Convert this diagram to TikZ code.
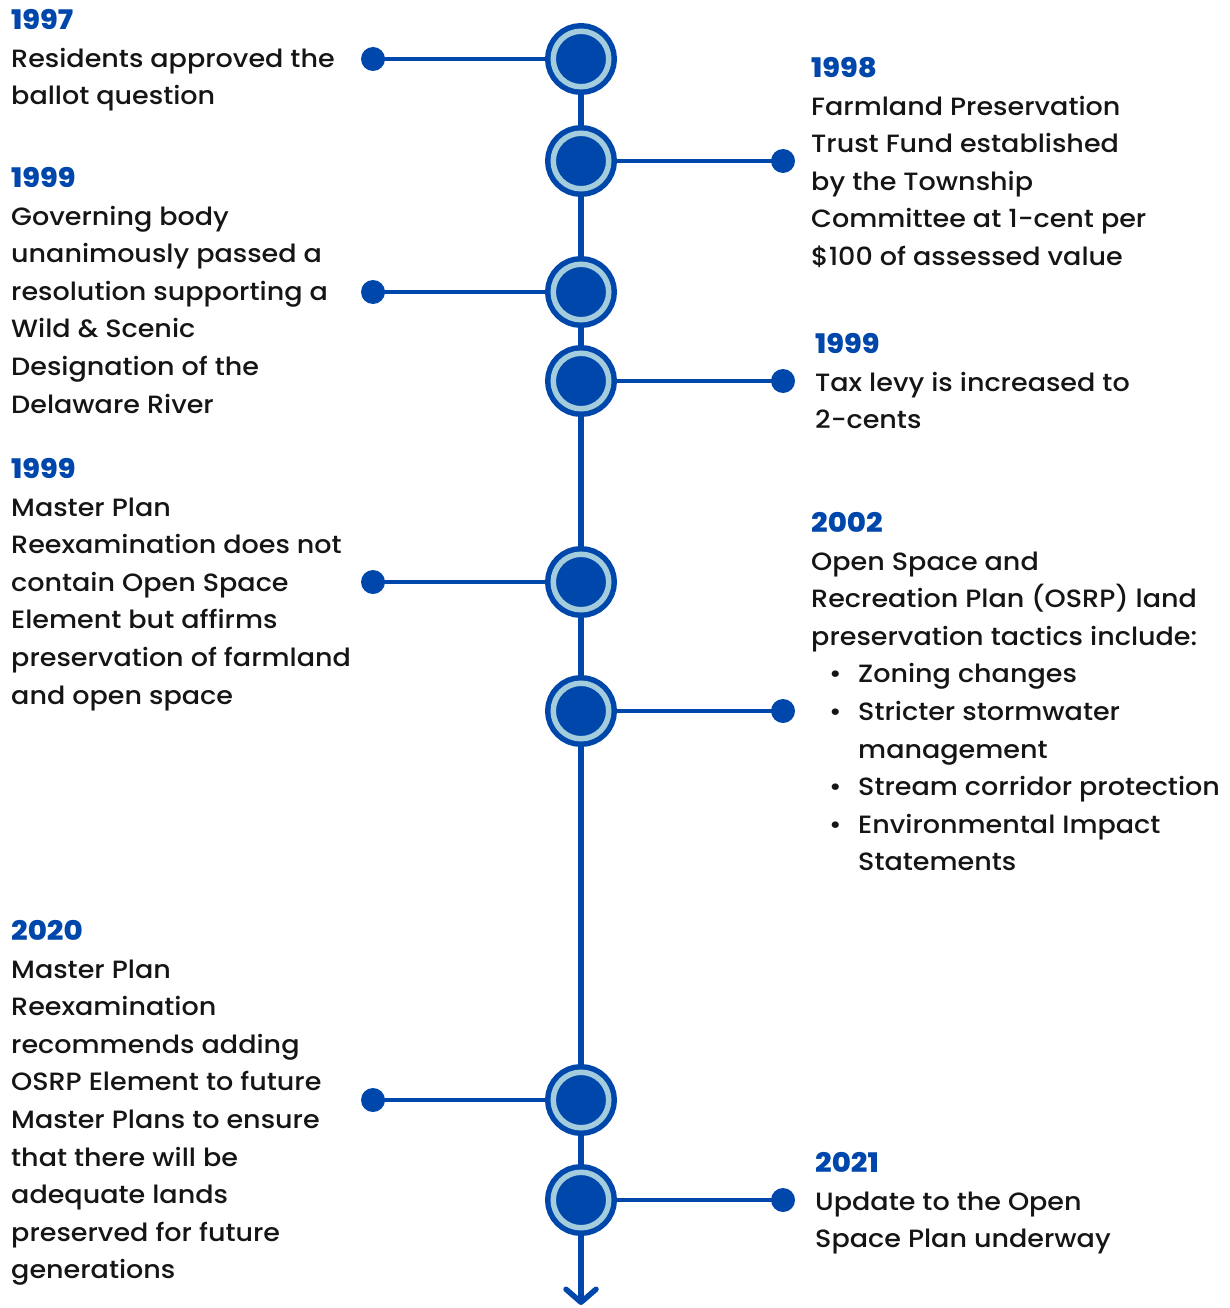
\documentclass[tikz,border=0pt]{standalone}
\usepackage{fontspec}
\setmainfont{Poppins}[UprightFont=* Medium, BoldFont=* ExtraBold, FakeStretch=1.08]
\usetikzlibrary{arrows.meta,backgrounds}
\definecolor{tblue}{HTML}{0047AB}
\definecolor{tlight}{HTML}{A3CCDD}
\definecolor{ttext}{HTML}{151515}
\tikzset{
  evt/.style={circle, inner sep=0, minimum size=55.5pt, fill=tblue, draw=tblue, line width=5.5pt, double=tlight, double distance=5.5pt},
  dotend/.style={circle, inner sep=0, minimum size=24pt, fill=tblue},
  txt/.style={anchor=north west, inner sep=0, align=left, font=\fontsize{25}{37.6}\selectfont, text=ttext},
  spine/.style={draw=tblue, line width=5.5pt},
  branch/.style={draw=tblue, line width=3.5pt},
}
\newcommand{\yr}[1]{\strut\textcolor{tblue}{\fontsize{27}{37.6}\selectfont\bfseries #1}}
\newcommand{\bul}{\makebox[47pt][l]{\hspace{18pt}\textbullet}}
\newcommand{\ind}{\hspace*{47pt}}
\begin{document}
\begin{tikzpicture}[x=1pt,y=-1pt]
\useasboundingbox (0,0) rectangle (1230,1308);
% event circles
\node[evt] (c1) at (581,59) {};
\node[evt] (c2) at (581,161) {};
\node[evt] (c3) at (581,292) {};
\node[evt] (c4) at (581,381) {};
\node[evt] (c5) at (581,582) {};
\node[evt] (c6) at (581,711) {};
\node[evt] (c7) at (581,1100) {};
\node[evt] (c8) at (581,1200) {};
\coordinate (end) at (581,1305);
% end dots
\node[dotend] (d1) at (373,59) {};
\node[dotend] (d2) at (783,161) {};
\node[dotend] (d3) at (373,292) {};
\node[dotend] (d4) at (783,381) {};
\node[dotend] (d5) at (373,582) {};
\node[dotend] (d6) at (783,711) {};
\node[dotend] (d7) at (373,1100) {};
\node[dotend] (d8) at (783,1200) {};
\begin{pgfonlayer}{background}
  \draw[spine] (c1.center) -- (c8.center);
  \draw[spine, -{Straight Barb[length=13pt,width=30pt,round]}] (c8.center) -- (end);
  \foreach \i in {1,...,8} { \draw[branch] (c\i.center) -- (d\i.center); }
\end{pgfonlayer}
% texts
\node[txt] (t1) at (11,3) {\yr{1997}\\Residents approved the\\ballot question};
\node[txt] (t2) at (811,51) {\yr{1998}\\Farmland Preservation\\Trust Fund established\\by the Township\\Committee at 1-cent per\\\$100 of assessed value};
\node[txt] (t3) at (11,161) {\yr{1999}\\Governing body\\unanimously passed a\\resolution supporting a\\Wild \& Scenic\\Designation of the\\Delaware River};
\node[txt] (t4) at (815,327) {\yr{1999}\\Tax levy is increased to\\2-cents};
\node[txt] (t5) at (11,452) {\yr{1999}\\Master Plan\\Reexamination does not\\contain Open Space\\Element but affirms\\preservation of farmland\\and open space};
\node[txt] (t6) at (811,506) {\yr{2002}\\Open Space and\\Recreation Plan (OSRP) land\\preservation tactics include:\\\bul Zoning changes\\\bul Stricter stormwater\\\ind management\\\bul Stream corridor protection\\\bul Environmental Impact\\\ind Statements};
\node[txt] (t7) at (11,914) {\yr{2020}\\Master Plan\\Reexamination\\recommends adding\\OSRP Element to future\\Master Plans to ensure\\that there will be\\adequate lands\\preserved for future\\generations};
\node[txt] (t8) at (815,1146) {\yr{2021}\\Update to the Open\\Space Plan underway};
\end{tikzpicture}
\end{document}
